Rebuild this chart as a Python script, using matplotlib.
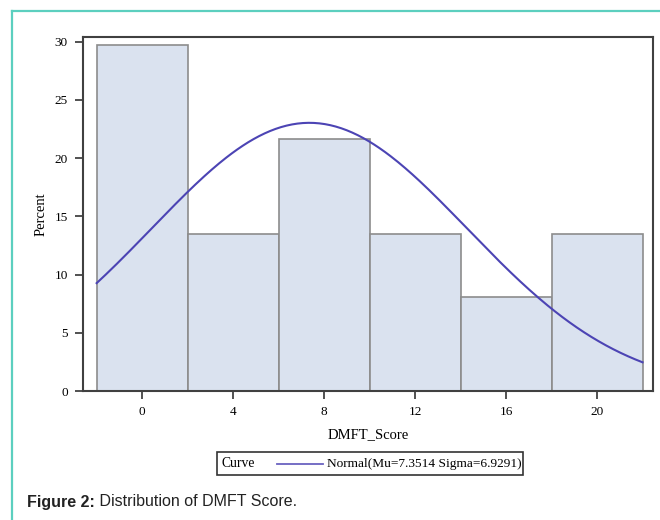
import numpy as np
import matplotlib
matplotlib.use("Agg")
import matplotlib.pyplot as plt
from matplotlib.lines import Line2D
from matplotlib.patches import Rectangle

# ---- data ----
bin_centers = [0, 4, 8, 12, 16, 20]
percents = [29.73, 13.51, 21.62, 13.51, 8.11, 13.51]
bin_width = 4
mu = 7.3514
sigma = 6.9291
xticks = [0, 4, 8, 12, 16, 20]
yticks = [0, 5, 10, 15, 20, 25, 30]
curve_label = "Normal(Mu=7.3514 Sigma=6.9291)"

W, H = 660, 520
fig = plt.figure(figsize=(6.6, 5.2), dpi=100)

def fx(px):
    return px / W

def fy(py):
    return 1 - py / H

serif = ["Liberation Serif", "DejaVu Serif"]
sans = ["Liberation Sans", "DejaVu Sans"]

ax = fig.add_axes([fx(83), fy(391), fx(653) - fx(83), fy(37) - fy(391)])

bar_fill = "#dae2ef"
bar_edge = "#8c8c8c"
curve_color = "#4c44b4"

ax.bar(bin_centers, percents, width=bin_width, color=bar_fill,
       edgecolor=bar_edge, linewidth=1.2, zorder=2)

# fitted normal curve (scaled to percent per bin)
xs = np.linspace(bin_centers[0] - bin_width / 2, bin_centers[-1] + bin_width / 2, 300)
ys = 100 * bin_width * np.exp(-0.5 * ((xs - mu) / sigma) ** 2) / (sigma * np.sqrt(2 * np.pi))
ax.plot(xs, ys, color=curve_color, linewidth=1.5, zorder=3)

ax.set_xlim(-2.6, 22.46)
ax.set_ylim(0, 30.4)
ax.set_xticks(xticks)
ax.set_yticks(yticks)
ax.tick_params(axis="both", direction="out", length=6, width=1.2,
               color="#333333", labelsize=9.5, pad=5)
for lab in ax.get_xticklabels() + ax.get_yticklabels():
    lab.set_fontfamily(serif)
for s in ax.spines.values():
    s.set_linewidth(1.5)
    s.set_color("#404040")

ax.set_xlabel("DMFT_Score", fontfamily=serif, fontsize=10.5, labelpad=7)
ax.set_ylabel("Percent", fontfamily=serif, fontsize=10.5, labelpad=5)

# legend box
bx0, bx1, by0, by1 = 217, 523, 452, 475
fig.patches.append(Rectangle((fx(bx0), fy(by1)), fx(bx1) - fx(bx0), fy(by0) - fy(by1),
                             transform=fig.transFigure, fill=False,
                             edgecolor="#333333", linewidth=1.2))
ymid = (by0 + by1) / 2
fig.text(fx(221), fy(ymid), "Curve", fontfamily=serif, fontsize=9.8,
         va="center", ha="left")
fig.lines.append(Line2D([fx(277), fx(323)], [fy(ymid), fy(ymid)],
                        transform=fig.transFigure, color="#6a62c0", linewidth=1.3))
fig.text(fx(327), fy(ymid), curve_label, fontfamily=serif, fontsize=9.6,
         va="center", ha="left")

# caption
t1 = fig.text(fx(27), fy(502), "Figure 2:", fontfamily=sans, fontsize=11.5,
              fontweight="bold", va="center", ha="left", color="#222222")
plt.annotate(" Distribution of DMFT Score.", xy=(1, 0.5), xycoords=t1,
             va="center", ha="left", fontfamily=sans, fontsize=11.5,
             color="#222222", annotation_clip=False)

# teal frame lines
teal = "#5ccfbf"
fig.lines.append(Line2D([fx(12), 1], [fy(10.5), fy(10.5)], transform=fig.transFigure,
                        color=teal, linewidth=1.6))
fig.lines.append(Line2D([fx(12), fx(12)], [fy(10.5), 0], transform=fig.transFigure,
                        color=teal, linewidth=1.6))

fig.savefig("out.png", dpi=100)
